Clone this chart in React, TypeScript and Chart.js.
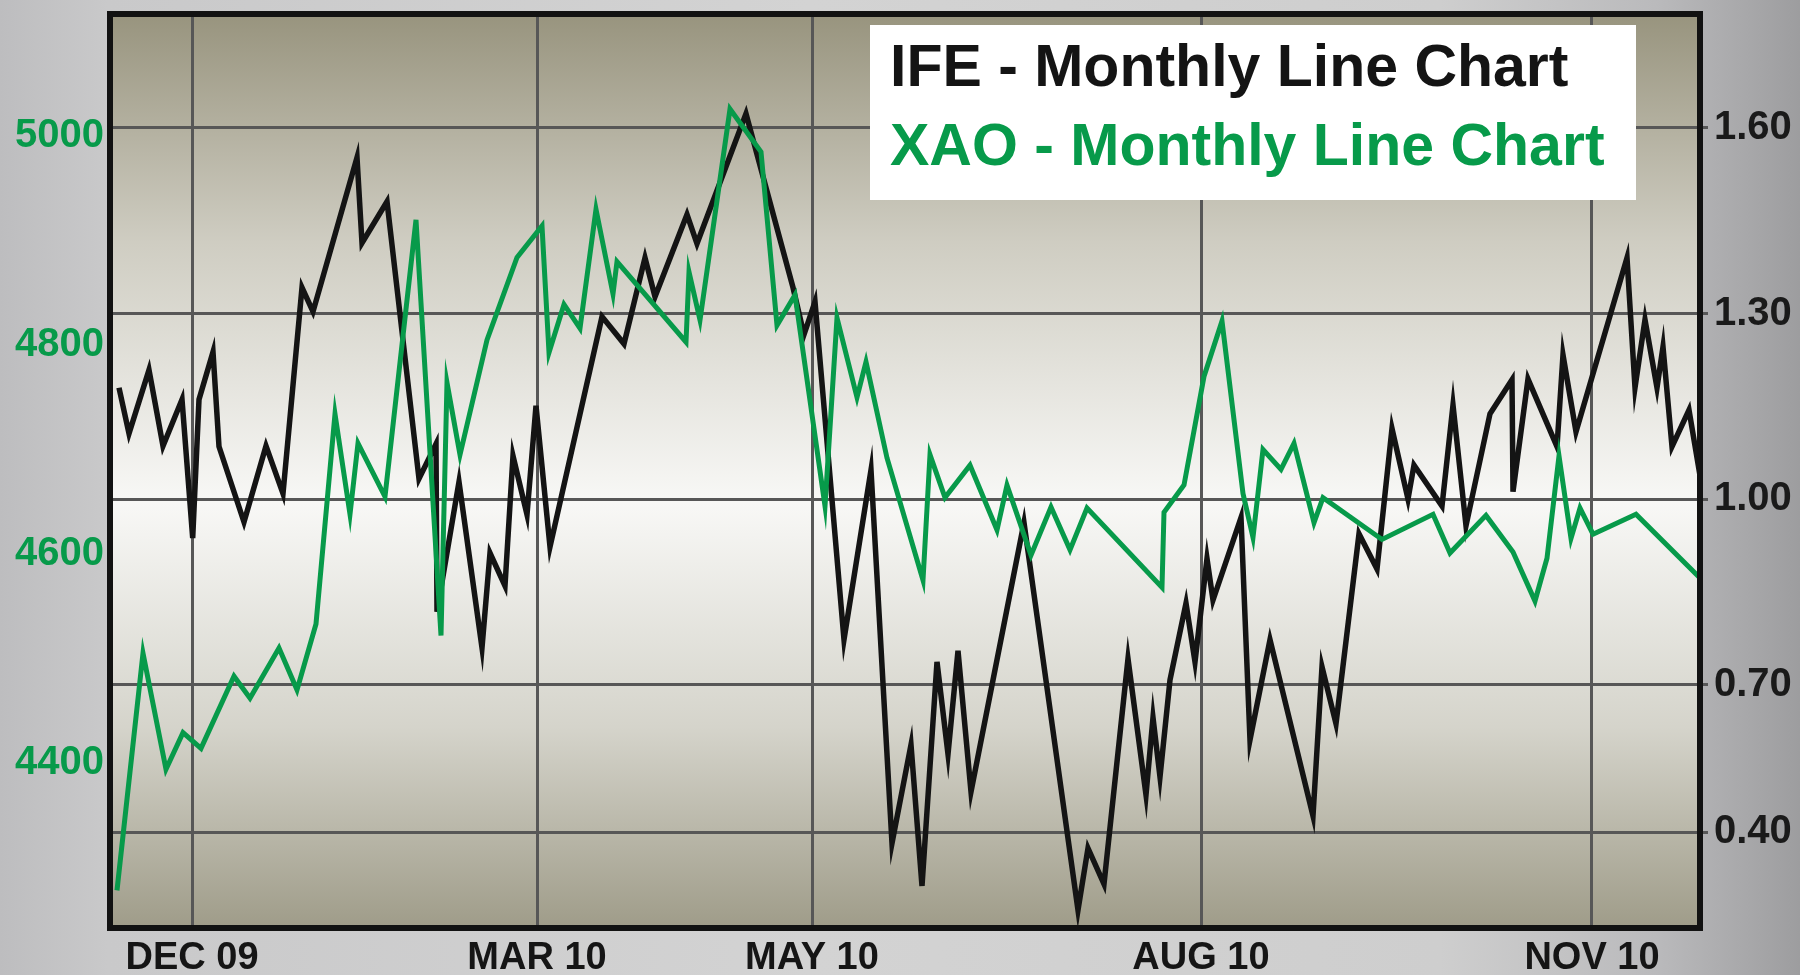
import React, { useEffect, useRef } from 'react';
import { Chart, registerables } from 'chart.js';

Chart.register(...registerables);

// ---- Data (x = position along the time axis, 0..159) ----
const IFE_X = [
  0.9, 1.9, 3.9, 5.3, 7.2, 8.27, 8.9, 10.3, 10.9, 13.4, 15.6, 17.3, 19.2, 20.3, 24.7, 25.2, 27.7, 30.9,
  32.6, 32.7, 34.9, 37.2, 38.0, 39.5, 40.3, 41.7, 42.6, 44.0, 49.2, 51.4, 53.5, 54.5, 57.7, 58.7, 63.6,
  68.3, 69.4, 70.5, 73.4, 76.1, 78.2, 80.1, 81.2, 82.7, 83.8, 84.8, 86.1, 91.4, 96.8, 97.8, 99.4, 101.8,
  103.6, 104.3, 105.0, 106.0, 107.6, 108.5, 109.7, 110.3, 113.1, 114.0, 116.0, 120.3, 121.2, 122.6, 124.9,
  126.7, 128.2, 129.8, 130.4, 133.2, 134.3, 135.6, 138.0, 140.2, 140.3, 141.8, 144.7, 145.3, 146.6, 151.7,
  152.5, 153.5, 154.7, 155.3, 156.2, 157.9, 159.0,
];
const IFE_VALUES = [
  1.180, 1.106, 1.209, 1.086, 1.161, 0.937, 1.161, 1.238, 1.085, 0.963, 1.086, 1.009, 1.342, 1.303, 1.552,
  1.414, 1.481, 1.033, 1.089, 0.818, 1.028, 0.760, 0.913, 0.860, 1.070, 0.975, 1.151, 0.923, 1.295, 1.251,
  1.390, 1.327, 1.460, 1.413, 1.623, 1.342, 1.266, 1.319, 0.773, 1.047, 0.444, 0.603, 0.375, 0.737, 0.588,
  0.755, 0.527, 0.962, 0.336, 0.436, 0.378, 0.742, 0.522, 0.647, 0.551, 0.708, 0.832, 0.737, 0.904, 0.837,
  0.970, 0.611, 0.773, 0.488, 0.729, 0.637, 0.944, 0.887, 1.114, 1.000, 1.055, 0.989, 1.152, 0.957, 1.138,
  1.193, 1.012, 1.194, 1.085, 1.233, 1.109, 1.390, 1.180, 1.290, 1.180, 1.246, 1.085, 1.144, 1.038,
];
const XAO_X = [
  0.7, 3.3, 5.6, 7.3, 9.1, 12.4, 14.0, 16.9, 18.7, 20.6, 22.5, 24.0, 24.8, 27.5, 30.6, 33.1, 33.7, 35.0,
  37.7, 40.7, 43.2, 43.9, 45.4, 47.0, 48.6, 50.3, 50.7, 57.6, 57.9, 59.0, 62.0, 65.1, 66.7, 68.5, 71.5,
  72.7, 74.7, 75.6, 77.7, 81.3, 82.0, 83.5, 86.0, 88.7, 89.7, 92.1, 94.1, 96.0, 97.7, 105.2, 105.4, 107.4,
  109.4, 111.2, 113.3, 114.3, 115.3, 117.1, 118.4, 120.4, 121.3, 127.2, 132.3, 134.0, 137.6, 140.3, 142.5,
  143.7, 144.9, 146.1, 147.0, 148.3, 152.6, 159.0,
];
const XAO_VALUES = [
  4278, 4505, 4394, 4429, 4414, 4483, 4462, 4510, 4470, 4533, 4734, 4638, 4706, 4655, 4920, 4522, 4764, 4695,
  4805, 4884, 4914, 4793, 4839, 4816, 4930, 4849, 4880, 4803, 4870, 4824, 5026, 4985, 4819, 4848, 4646,
  4826, 4750, 4784, 4692, 4575, 4695, 4654, 4685, 4623, 4666, 4599, 4645, 4604, 4644, 4568, 4640, 4666,
  4770, 4823, 4658, 4616, 4700, 4681, 4706, 4630, 4654, 4614, 4638, 4601, 4637, 4602, 4555, 4596, 4694,
  4615, 4644, 4619, 4638, 4577,
];
const X_TICK_POS = [8.2, 42.7, 70.2, 109.1, 148.2];
const X_TICK_LABELS = ['DEC 09', 'MAR 10', 'MAY 10', 'AUG 10', 'NOV 10'];
const LEFT_TICKS = [4400, 4600, 4800, 5000];
const RIGHT_TICK_POS = [0.462, 0.7, 1.0, 1.3, 1.6];
const RIGHT_TICK_LABELS = ['0.40', '0.70', '1.00', '1.30', '1.60'];
const LEGEND_LINES = ['IFE - Monthly Line Chart', 'XAO - Monthly Line Chart'];

const GREEN = '#079a4a';
const BLACK = '#141414';
const GRID = '#575757';
const FONT = '"Liberation Sans", Arial, sans-serif';

const decorPlugin = {
  id: 'decor',
  beforeDraw(chart: any) {
    const { ctx, chartArea: a } = chart;
    const g = ctx.createLinearGradient(0, a.top, 0, a.bottom);
    g.addColorStop(0, '#98947e');
    g.addColorStop(0.25, '#cfcdc2');
    g.addColorStop(0.535, '#f8f8f6');
    g.addColorStop(0.78, '#d5d4cb');
    g.addColorStop(1, '#9f9c89');
    ctx.save();
    ctx.fillStyle = g;
    ctx.fillRect(a.left, a.top, a.right - a.left, a.bottom - a.top);
    ctx.restore();
  },
  afterDraw(chart: any) {
    const { ctx, chartArea: a } = chart;
    ctx.save();
    ctx.strokeStyle = '#121212';
    ctx.lineWidth = 6;
    ctx.strokeRect(a.left, a.top, a.right - a.left, a.bottom - a.top);
    // legend box
    ctx.fillStyle = '#ffffff';
    ctx.fillRect(870, 25, 766, 175);
    ctx.font = `bold 59px ${FONT}`;
    ctx.textAlign = 'left';
    ctx.textBaseline = 'alphabetic';
    ctx.fillStyle = BLACK;
    ctx.fillText(LEGEND_LINES[0], 890, 86);
    ctx.fillStyle = GREEN;
    ctx.fillText(LEGEND_LINES[1], 890, 165);
    ctx.restore();
  },
};

const noVPad = (s: any) => {
  s.paddingTop = 0;
  s.paddingBottom = 0;
};

export default function App() {
  const ref = useRef<HTMLCanvasElement>(null);
  useEffect(() => {
    document.body.style.margin = '0';
    const canvas = ref.current!;
    const chart = new Chart(canvas, {
      type: 'line',
      data: {
        datasets: [
          {
            label: 'XAO',
            data: XAO_X.map((x, i) => ({ x, y: XAO_VALUES[i] })),
            yAxisID: 'yL',
            borderColor: GREEN,
            borderWidth: 5,
            borderJoinStyle: 'miter',
            pointRadius: 0,
            tension: 0,
            order: 0,
          },
          {
            label: 'IFE',
            data: IFE_X.map((x, i) => ({ x, y: IFE_VALUES[i] })),
            yAxisID: 'yR',
            borderColor: BLACK,
            borderWidth: 5.5,
            borderJoinStyle: 'miter',
            pointRadius: 0,
            tension: 0,
            order: 1,
          },
        ],
      },
      options: {
        responsive: false,
        animation: false,
        devicePixelRatio: 1,
        layout: { padding: { top: 14, left: 0, right: 0, bottom: 0 } },
        plugins: { legend: { display: false }, tooltip: { enabled: false } },
        scales: {
          x: {
            type: 'linear',
            position: 'bottom',
            min: 0,
            max: 159,
            afterBuildTicks: (s: any) => {
              s.ticks = X_TICK_POS.map((v) => ({ value: v }));
            },
            afterFit: (s: any) => {
              s.height = 47;
              s.paddingLeft = 0;
              s.paddingRight = 0;
            },
            grid: { color: GRID, lineWidth: 3, drawTicks: false },
            border: { display: false },
            ticks: {
              autoSkip: false,
              maxRotation: 0,
              padding: 8,
              color: '#151515',
              font: { family: FONT, weight: 'bold', size: 38 },
              callback: (_v: any, i: number) => X_TICK_LABELS[i],
            },
          },
          yL: {
            type: 'linear',
            position: 'left',
            min: 4242,
            max: 5117,
            afterBuildTicks: (s: any) => {
              s.ticks = LEFT_TICKS.map((v) => ({ value: v }));
            },
            afterFit: (s: any) => {
              s.width = 110;
              noVPad(s);
            },
            grid: { display: false, drawTicks: false, tickLength: 0 },
            border: { display: false },
            ticks: {
              padding: 6,
              color: GREEN,
              font: { family: FONT, weight: 'bold', size: 40 },
              callback: (v: any) => String(v),
            },
          },
          yR: {
            type: 'linear',
            position: 'right',
            min: 0.307,
            max: 1.784,
            afterBuildTicks: (s: any) => {
              s.ticks = RIGHT_TICK_POS.map((v) => ({ value: v }));
            },
            afterFit: (s: any) => {
              s.width = 100;
              noVPad(s);
            },
            grid: {
              color: GRID,
              lineWidth: 3,
              drawOnChartArea: true,
              drawTicks: true,
              tickLength: 8,
              tickColor: GRID,
            },
            border: { display: false },
            ticks: {
              padding: 6,
              color: '#1a1a1a',
              font: { family: FONT, weight: 'bold', size: 40 },
              callback: (_v: any, i: number) => RIGHT_TICK_LABELS[i],
            },
          },
        },
      } as any,
      plugins: [decorPlugin],
    });
    return () => chart.destroy();
  }, []);

  return (
    <div
      style={{
        position: 'fixed',
        left: 0,
        top: 0,
        width: 1800,
        height: 975,
        overflow: 'hidden',
        background:
          'linear-gradient(90deg, #bdbdbf 0%, #c9c9ca 6%, #d3d3d3 45%, #cecece 80%, #bababc 92%, #9d9d9f 100%)',
      }}
    >
      <canvas ref={ref} width={1800} height={975} style={{ display: 'block', width: 1800, height: 975 }} />
    </div>
  );
}
